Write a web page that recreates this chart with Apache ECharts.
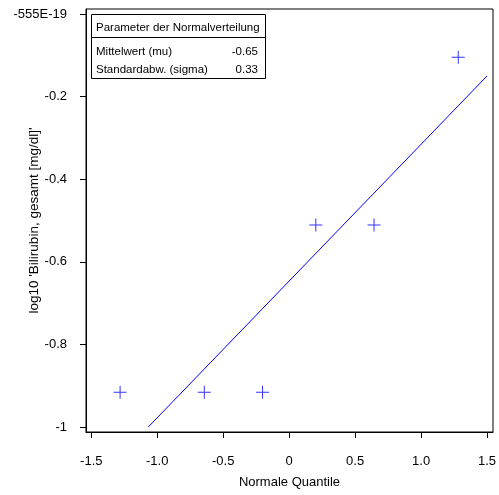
<!DOCTYPE html>
<html>
<head>
<meta charset="utf-8">
<script src="https://cdn.jsdelivr.net/npm/echarts@6/dist/echarts.min.js"></script>
<style>
html,body{margin:0;padding:0;background:#fff;}
#c{width:499px;height:495px;}
</style>
</head>
<body>
<div id="c"></div>
<script>
// Data
const quantiles = [-1.2816, -0.6433, -0.2019, 0.2019, 0.6433, 1.2816];
const values = [-0.916, -0.916, -0.916, -0.511, -0.511, -0.105];
const fitX = [-1.068, 1.5];
const fitY = [-1.0, -0.150];
const xTicks = [-1.5, -1.0, -0.5, 0, 0.5, 1.0, 1.5];
const xTickLabels = ['-1.5', '-1.0', '-0.5', '0', '0.5', '1.0', '1.5'];
const yTicks = [-1, -0.8, -0.6, -0.4, -0.2, 0];
const yTickLabels = ['-1', '-0.8', '-0.6', '-0.4', '-0.2', '-555E-19'];
const legendTitle = 'Parameter der Normalverteilung';
const paramNames = ['Mittelwert (mu)', 'Standardabw. (sigma)'];
const paramValues = ['-0.65', '0.33'];

const FONT = 'Liberation Sans, Arial, sans-serif';
const BLUE = '#0000ff';

function lookup(ticks, labels, v) {
  for (let i = 0; i < ticks.length; i++) if (Math.abs(ticks[i] - v) < 1e-6) return labels[i];
  return '';
}

const chart = echarts.init(document.getElementById('c'), null, {renderer: 'canvas'});
const plus = 'path://M0,6h13v1h-13z M6,0h1v13h-1z';

chart.setOption({
  animation: false,
  backgroundColor: '#fff',
  grid: {left: 86, top: 9, right: 6, bottom: 63, show: true, borderColor: '#000', borderWidth: 1,
         backgroundColor: 'transparent', containLabel: false, outerBoundsMode: 'none'},
  xAxis: {
    type: 'value', min: -1.54, max: 1.545,
    name: 'Normale Quantile', nameLocation: 'middle', nameGap: 44, nameMoveOverlap: false,
    nameTextStyle: {color: '#000', fontFamily: FONT, fontSize: 13},
    axisLine: {show: true, onZero: false, lineStyle: {color: '#000', width: 1}},
    axisTick: {show: true, length: 6, customValues: xTicks, lineStyle: {color: '#000'}},
    axisLabel: {customValues: xTicks, margin: 23, color: '#000', fontFamily: FONT, fontSize: 13,
      formatter: v => lookup(xTicks, xTickLabels, v)},
    splitLine: {show: false}
  },
  yAxis: {
    type: 'value', min: -1.012, max: 0.012,
    name: "log10 'Bilirubin, gesamt [mg/dl]'", nameLocation: 'middle', nameGap: 45, nameRotate: 90, nameMoveOverlap: false,
    nameTextStyle: {color: '#000', fontFamily: FONT, fontSize: 13.5},
    axisLine: {show: true, onZero: false, lineStyle: {color: '#000', width: 1}},
    axisTick: {show: true, length: 6, customValues: yTicks, lineStyle: {color: '#000'}},
    axisLabel: {customValues: yTicks, margin: 19, color: '#000', fontFamily: FONT, fontSize: 13,
      formatter: v => lookup(yTicks, yTickLabels, v)},
    splitLine: {show: false}
  },
  series: [
    {
      type: 'line', data: fitX.map((x, i) => [x, fitY[i]]),
      showSymbol: false, symbol: 'none', lineStyle: {color: BLUE, width: 1}, silent: true
    },
    {
      type: 'scatter', data: quantiles.map((x, i) => [x, values[i]]),
      symbol: plus, symbolSize: 13, itemStyle: {color: BLUE}
    }
  ],
  graphic: [
    {type: 'rect', shape: {x: 91.5, y: 14.5, width: 174, height: 64}, style: {fill: '#fff', stroke: '#000', lineWidth: 1}},
    {type: 'line', shape: {x1: 91.5, y1: 37.5, x2: 265.5, y2: 37.5}, style: {stroke: '#000', lineWidth: 1}},
    {type: 'text', x: 96, y: 27.5, style: {text: legendTitle, font: '11.5px ' + FONT, fill: '#000', verticalAlign: 'middle'}},
    {type: 'text', x: 96, y: 52, style: {text: paramNames[0], font: '11.5px ' + FONT, fill: '#000', verticalAlign: 'middle'}},
    {type: 'text', x: 96, y: 70, style: {text: paramNames[1], font: '11.5px ' + FONT, fill: '#000', verticalAlign: 'middle'}},
    {type: 'text', x: 258, y: 52, style: {text: paramValues[0], font: '11.5px ' + FONT, fill: '#000', align: 'right', verticalAlign: 'middle'}},
    {type: 'text', x: 258, y: 70, style: {text: paramValues[1], font: '11.5px ' + FONT, fill: '#000', align: 'right', verticalAlign: 'middle'}}
  ]
});
</script>
</body>
</html>
